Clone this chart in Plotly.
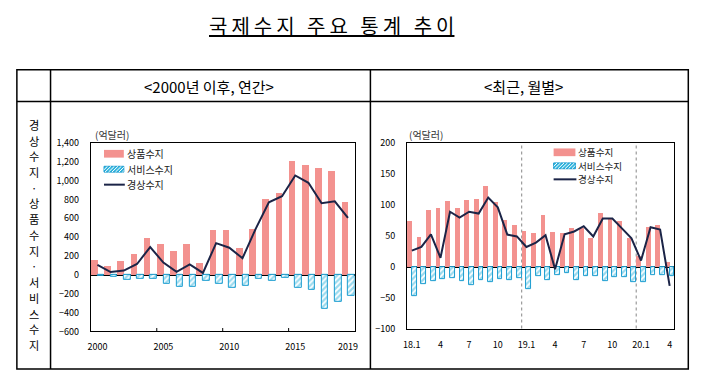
import plotly.graph_objects as go

# ---------------- data ----------------
years = list(range(2000, 2020))
goods_annual = [155, 95, 148, 225, 395, 328, 252, 328, 122, 480,
                480, 288, 490, 807, 868, 1210, 1166, 1140, 1105, 773]
services_annual = [-8, -25, -52, -42, -42, -93, -126, -126, -65, -93,
                   -142, -112, -42, -62, -32, -142, -163, -356, -285, -225]
ca_annual = [105, 30, 45, 115, 295, 130, 32, 110, 20, 336,
             288, 176, 488, 770, 834, 1054, 976, 759, 780, 603]
annual_ticks = [2000, 2005, 2010, 2015, 2019]

months = ([f"18.{m}" for m in range(1, 13)] + [f"19.{m}" for m in range(1, 13)]
          + [f"20.{m}" for m in range(1, 5)])
goods_monthly = [73, 48, 92, 95, 106, 94.5, 107.5, 110, 131, 105, 75, 67,
                 58, 54.5, 83, 56, 54.5, 62, 63, 46, 87, 77, 74, 47,
                 17, 64, 67.5, 8]
services_monthly = [-47, -28, -23, -20, -19, -23, -30, -22, -25, -20, -22, -19,
                    -36, -16, -22, -13, -10, -22, -16, -16, -24, -17, -17, -25,
                    -25, -14, -14, -14.5]
ca_monthly = [26, 32, 52.5, 14.5, 89, 79.5, 89, 86, 112, 96, 52, 49,
              32, 39, 51, -4, 52.5, 57, 65.5, 49, 78, 78, 62, 46,
              10, 64, 60, -31]
month_tickvals = ["18.1", "18.4", "18.7", "18.10", "19.1", "19.4", "19.7", "19.10", "20.1", "20.4"]
month_ticktext = ["18.1", "4", "7", "10", "19.1", "4", "7", "10", "20.1", "4"]

names = ["상품수지", "서비스수지", "경상수지"]

# ---------------- styles ----------------
W, H = 722, 377
RED = "#F3928F"
CYAN = "#33B5DE"
CYAN_LINE = "#1C9DD0"
NAVY = "#1B2447"
FONT = "Noto Sans CJK KR, Noto Sans, sans-serif"


def px(x):
    return x / W


def py(y):
    return 1 - y / H


fig = go.Figure()

hatch = dict(shape="/", fgcolor=CYAN, bgcolor="white", size=4, solidity=0.55)

# left chart
fig.add_trace(go.Bar(x=years, y=goods_annual, name=names[0], marker=dict(color=RED, line=dict(width=0)),
                     xaxis="x", yaxis="y", offsetgroup="g"))
fig.add_trace(go.Bar(x=years, y=services_annual, name=names[1],
                     marker=dict(color=CYAN, pattern=hatch, line=dict(color=CYAN_LINE, width=1)),
                     xaxis="x", yaxis="y", offsetgroup="s"))
fig.add_trace(go.Scatter(x=years, y=ca_annual, name=names[2], mode="lines",
                         line=dict(color=NAVY, width=2), xaxis="x", yaxis="y"))

# right chart
fig.add_trace(go.Bar(x=months, y=goods_monthly, name=names[0], marker=dict(color=RED, line=dict(width=0)),
                     xaxis="x2", yaxis="y2", offsetgroup="g"))
fig.add_trace(go.Bar(x=months, y=services_monthly, name=names[1],
                     marker=dict(color=CYAN, pattern=hatch, line=dict(color=CYAN_LINE, width=1)),
                     xaxis="x2", yaxis="y2", offsetgroup="s"))
fig.add_trace(go.Scatter(x=months, y=ca_monthly, name=names[2], mode="lines",
                         line=dict(color=NAVY, width=2), xaxis="x2", yaxis="y2"))

axis_common = dict(showline=True, mirror=True, linecolor="black", linewidth=1,
                   showgrid=False, ticks="", tickfont=dict(size=9, color="black", family=FONT))

fig.update_layout(
    width=W, height=H,
    margin=dict(l=0, r=0, t=0, b=0, pad=0),
    paper_bgcolor="white", plot_bgcolor="white",
    showlegend=False,
    barmode="group", bargap=0, bargroupgap=0,
    font=dict(family=FONT, color="black"),
    xaxis=dict(domain=[px(87.7), px(354)], anchor="y", range=[1999.5, 2019.5],
               tickvals=annual_ticks, zeroline=False, ticklabelstandoff=7, **axis_common),
    yaxis=dict(domain=[py(336), py(140.7)], anchor="x", range=[-600, 1400], dtick=200,
               tickformat=",", zeroline=True, zerolinecolor="black", zerolinewidth=1.5,
               ticklabelstandoff=9, **axis_common),
    xaxis2=dict(domain=[px(407), px(677)], anchor="y2", type="category",
                categoryorder="array", categoryarray=months, range=[-0.5, 27.5],
                tickvals=month_tickvals, ticktext=month_ticktext, zeroline=False,
                ticklabelstandoff=8, **axis_common),
    yaxis2=dict(domain=[py(333), py(141)], anchor="x2", range=[-100, 200], dtick=50,
                zeroline=True, zerolinecolor="black", zerolinewidth=1.5,
                ticklabelstandoff=9, **axis_common),
)

shapes = []
ann = []

# table frame
LINE = dict(color="black", width=1.5)
TL, TR, TT, TB = 13, 691, 65, 375
shapes.append(dict(type="rect", xref="paper", yref="paper", x0=px(TL), x1=px(TR), y0=py(TB), y1=py(TT), line=LINE))
shapes.append(dict(type="line", xref="paper", yref="paper", x0=px(TL), x1=px(TR), y0=py(98), y1=py(98), line=LINE))
for xv in (47, 370):
    shapes.append(dict(type="line", xref="paper", yref="paper", x0=px(xv), x1=px(xv), y0=py(TB), y1=py(TT), line=LINE))

# left chart inside ticks at category boundaries
for b in (2004.5, 2009.5, 2014.5):
    shapes.append(dict(type="line", xref="x", yref="y domain", x0=b, x1=b, y0=0, y1=0.018,
                       line=dict(color="black", width=1)))

# right chart dotted year separators
for b in (11.5, 23.5):
    shapes.append(dict(type="line", xref="x2", yref="y2 domain", x0=b, x1=b, y0=0, y1=1,
                       line=dict(color="#9A9A9A", width=1.2, dash="dot"), layer="below"))


def hatch_swatch(x0, x1, yc, h):
    yt, yb = yc - h / 2, yc + h / 2
    shapes.append(dict(type="rect", xref="paper", yref="paper", x0=px(x0), x1=px(x1),
                       y0=py(yb), y1=py(yt), fillcolor=CYAN, line=dict(color=CYAN_LINE, width=1)))
    k = x0 - h
    while k < x1:
        sx, sy = k, yb
        ex, ey = k + h, yt
        if sx < x0:
            d = x0 - sx
            sx, sy = x0, yb - d
        if ex > x1:
            d = ex - x1
            ex, ey = x1, yt + d
        if ex > sx:
            shapes.append(dict(type="line", xref="paper", yref="paper", x0=px(sx), y0=py(sy),
                               x1=px(ex), y1=py(ey), line=dict(color="white", width=1)))
        k += 3.5


def legend(x0, x1, ys, tx, size):
    shapes.append(dict(type="rect", xref="paper", yref="paper", x0=px(x0), x1=px(x1),
                       y0=py(ys[0] + 4), y1=py(ys[0] - 4), fillcolor=RED, line=dict(width=0)))
    hatch_swatch(x0, x1, ys[1], 6)
    shapes.append(dict(type="line", xref="paper", yref="paper", x0=px(x0), x1=px(x1 + 1),
                       y0=py(ys[2]), y1=py(ys[2]), line=dict(color=NAVY, width=2)))
    for nm, yv in zip(names, ys):
        ann.append(dict(text=nm, xref="paper", yref="paper", x=px(tx), y=py(yv), xanchor="left",
                        yanchor="middle", showarrow=False, borderpad=0,
                        font=dict(size=size, color="#222", family=FONT)))


legend(101, 121, [152, 168, 184], 123, 10)
legend(555, 577, [150.5, 164.5, 178.5], 579, 9.6)

# units
for xv in (90, 407):
    ann.append(dict(text="(억달러)", xref="paper", yref="paper", x=px(xv), y=py(132), xanchor="left",
                    yanchor="middle", showarrow=False, font=dict(size=10, color="#333", family=FONT)))

# title and headers
title = "\u2009".join("국제수지 주요 통계 추이")
ann.append(dict(text=title, xref="paper", yref="paper", x=px(331), y=py(19), xanchor="center",
                yanchor="middle", showarrow=False,
                font=dict(size=20, color="black", family=FONT, lineposition="under")))
ann.append(dict(text="<2000년 이후, 연간>", xref="paper", yref="paper", x=px(207), y=py(82),
                xanchor="center", yanchor="middle", showarrow=False,
                font=dict(size=15, color="black", family=FONT)))
ann.append(dict(text="<최근, 월별>", xref="paper", yref="paper", x=px(525), y=py(82),
                xanchor="center", yanchor="middle", showarrow=False,
                font=dict(size=15, color="black", family=FONT)))

# vertical row label (one character per annotation)
vert = "경상수지·상품수지·서비스수지"
for i, ch in enumerate(vert):
    ann.append(dict(text=ch, xref="paper", yref="paper", x=px(30), y=py(122 + i * 16.3),
                    xanchor="center", yanchor="middle", showarrow=False, borderpad=0,
                    font=dict(size=11.2, color="black", family=FONT)))

fig.update_layout(shapes=shapes, annotations=ann)

fig.write_html("out.html", config={"displayModeBar": False},
               post_script="document.body.style.margin='0';document.body.style.overflow='hidden';")
